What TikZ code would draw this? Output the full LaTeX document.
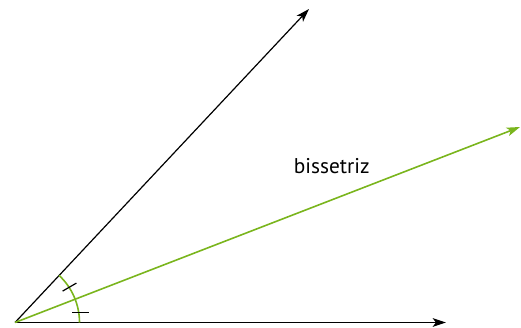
\documentclass[tikz,border=0pt]{standalone}
\usepackage{fontspec}
\setmainfont{PT Sans}
\usetikzlibrary{arrows.meta,calc}
\definecolor{bisgreen}{RGB}{122,181,29}
\tikzset{
  ray/.style={line width=0.9pt, black, -{Stealth[length=10pt,width=6.5pt,inset=2.5pt]}},
  bisray/.style={line width=1.2pt, bisgreen, -{Stealth[length=10pt,width=6.5pt,inset=2.5pt]}},
  anglearc/.style={line width=1.2pt, bisgreen},
  tick/.style={line width=0.9pt, black},
  lbl/.style={font=\fontsize{16pt}{18pt}\selectfont, anchor=base, inner sep=0pt}
}
\begin{document}
\begin{tikzpicture}[x=0.75pt,y=0.75pt]
\useasboundingbox (0,0) rectangle (521,328);
\coordinate (O) at (15,5.5);
\coordinate (H) at (446,5.5);
\coordinate (U) at (309,319);
\coordinate (B) at (520,201);
\coordinate (A0) at (79.5,5.5);
% rays
\draw[ray] (O) -- (H);
\draw[ray] (O) -- (U);
\draw[bisray] (O) -- (B);
% angle arc
\draw[anglearc] (A0) arc[start angle=0,end angle=46.9,radius=64.5];
% ticks
\coordinate (T1) at ($(O)+(33:65)$);
\coordinate (T2) at (80.5,15.3);
\draw[tick] ($(T1)+(210:8)$) -- ($(T1)+(30:8)$);
\draw[tick] ($(T2)+(-8.5,0)$) -- ($(T2)+(8.5,0)$);
% label
\node[lbl] (L) at (331.7,154.7) {bissetriz};
\end{tikzpicture}
\end{document}
